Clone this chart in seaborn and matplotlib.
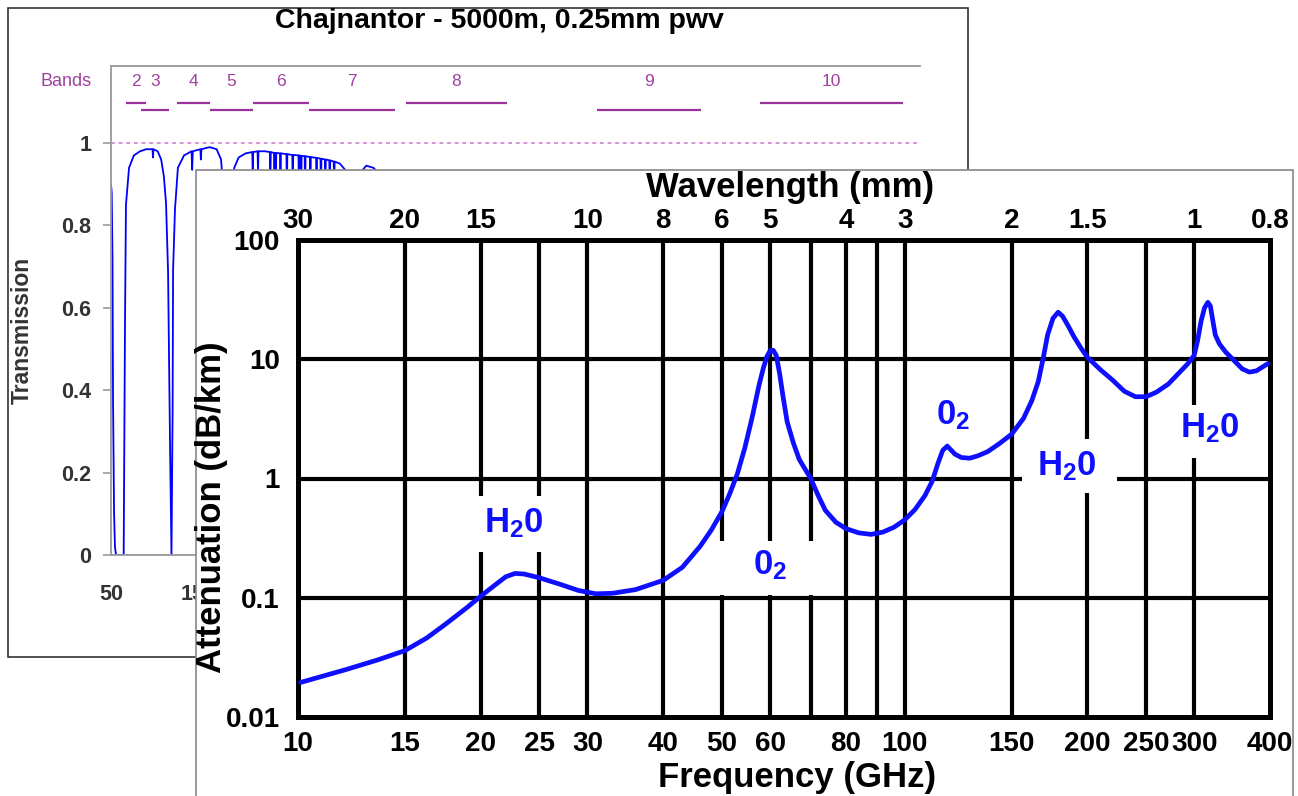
import numpy as np
import matplotlib
matplotlib.use("Agg")
import matplotlib.pyplot as plt
import matplotlib.transforms as mtransforms
from matplotlib.patches import Rectangle
import seaborn as sns

# -----------------------------
# DATA
# -----------------------------

# background chart: Chajnantor transmission (GHz, transmission)
trans_points = [
    (50.0, 0.90), (50.8, 0.88), (51.7, 0.72), (52.3, 0.38), (53.5, 0.10), (54.5, 0.02),
    (55.7, 0.0), (64.4, 0.0), (64.8, 0.14), (65.9, 0.56), (67.0, 0.85), (70.5, 0.94),
    (76.0, 0.97), (83.0, 0.98), (90.0, 0.985), (97.2, 0.985), (97.7, 0.965), (98.2, 0.985),
    (103.0, 0.98), (107.0, 0.96), (110.0, 0.92), (112.5, 0.855), (114.8, 0.69), (117.0, 0.28),
    (118.7, 0.0), (120.0, 0.35), (120.5, 0.69), (122.7, 0.84), (126.0, 0.94), (133.0, 0.97),
    (141.5, 0.98), (142.2, 0.935), (142.9, 0.98), (151.5, 0.985), (152.1, 0.96), (152.7, 0.985),
    (162.0, 0.99), (170.0, 0.985), (175.0, 0.96), (179.0, 0.85), (181.0, 0.40), (183.3, 0.0),
    (185.5, 0.40), (187.5, 0.85), (190.0, 0.94), (195.0, 0.965), (203.0, 0.975),
    (210.5, 0.978), (211.0, 0.93), (211.5, 0.978), (216.5, 0.98), (217.0, 0.93), (217.5, 0.98),
    (225.0, 0.98), (230.5, 0.978), (231.0, 0.90), (231.5, 0.978), (235.2, 0.976), (235.7, 0.88),
    (236.2, 0.976), (237.2, 0.88), (237.7, 0.976), (242.0, 0.975), (242.5, 0.86), (243.0, 0.975),
    (249.3, 0.973), (249.8, 0.88), (250.3, 0.973), (256.0, 0.971), (256.5, 0.87), (257.0, 0.971),
    (263.0, 0.97), (263.5, 0.88), (264.0, 0.97), (265.5, 0.969), (266.0, 0.85), (266.5, 0.969),
    (270.0, 0.968), (270.5, 0.86), (271.0, 0.968), (276.0, 0.966), (276.5, 0.88), (277.0, 0.966),
    (283.0, 0.964), (283.5, 0.90), (284.0, 0.964), (288.0, 0.962), (288.5, 0.86), (289.0, 0.962),
    (293.0, 0.96), (293.5, 0.88), (294.0, 0.96), (298.0, 0.958), (298.5, 0.90), (299.0, 0.958),
    (303.0, 0.955), (303.5, 0.88), (304.0, 0.955), (310.0, 0.95), (316.0, 0.935), (319.0, 0.85),
    (322.5, 0.40), (325.2, 0.02), (327.5, 0.40), (330.0, 0.85), (334.0, 0.93), (340.0, 0.945),
    (348.0, 0.94), (355.0, 0.925), (362.0, 0.86), (370.0, 0.74), (376.0, 0.48), (380.2, 0.02),
    (384.0, 0.50), (390.0, 0.74), (400.0, 0.84), (420.0, 0.86), (440.0, 0.82), (448.0, 0.30),
    (452.0, 0.62), (470.0, 0.80), (490.0, 0.82), (520.0, 0.72), (545.0, 0.30), (557.0, 0.0),
    (575.0, 0.30), (600.0, 0.50), (620.0, 0.58), (650.0, 0.62), (680.0, 0.60), (720.0, 0.45),
    (752.0, 0.0), (780.0, 0.30), (810.0, 0.45), (860.0, 0.50), (900.0, 0.46), (950.0, 0.40),
    (970.0, 0.36),
]
trans_ghz = [p[0] for p in trans_points]
trans_val = [p[1] for p in trans_points]

# ALMA bands (number, low GHz, high GHz)
band_names = ["2", "3", "4", "5", "6", "7", "8", "9", "10"]
band_lo = [67, 84, 125, 163, 211, 275, 385, 602, 787]
band_hi = [90, 116, 163, 211, 275, 373, 500, 720, 950]

bg_xticks = [50, 150, 250, 350, 450, 550, 650, 750, 850, 950]
bg_yticks = [0, 0.2, 0.4, 0.6, 0.8, 1]
bg_ylabels = ["0", "0.2", "0.4", "0.6", "0.8", "1"]

# foreground chart: attenuation (GHz, dB/km)
atten_points = [
    (10.1, 0.0195), (12.0, 0.025), (13.5, 0.030), (15.0, 0.036), (16.3, 0.046), (17.5, 0.060),
    (19.0, 0.083), (20.0, 0.103), (21.0, 0.125), (22.0, 0.150), (22.8, 0.160), (23.6, 0.158),
    (25.0, 0.147), (27.0, 0.130), (29.0, 0.115), (31.0, 0.108), (33.0, 0.109), (36.0, 0.117),
    (40.0, 0.140), (43.0, 0.180), (46.0, 0.270), (48.0, 0.370), (50.0, 0.53), (51.5, 0.75),
    (53.0, 1.1), (54.5, 1.8), (56.0, 3.2), (57.5, 6.0), (58.5, 8.5), (59.3, 10.6),
    (60.0, 11.8), (60.7, 11.9), (61.4, 10.8), (62.2, 7.6), (63.0, 4.9), (64.0, 3.0),
    (65.5, 2.0), (67.0, 1.45), (68.5, 1.2), (70.0, 1.0), (72.0, 0.72), (74.0, 0.54),
    (77.0, 0.43), (80.0, 0.38), (84.0, 0.35), (88.0, 0.34), (92.0, 0.355), (96.0, 0.39),
    (100.0, 0.45), (104.0, 0.55), (108.0, 0.72), (111.0, 0.95), (113.5, 1.35), (115.5, 1.72),
    (117.5, 1.87), (119.0, 1.75), (121.0, 1.60), (124.0, 1.50), (128.0, 1.48), (132.0, 1.55),
    (137.0, 1.68), (143.0, 1.95), (150.0, 2.35), (157.0, 3.2), (162.0, 4.5), (166.0, 6.5),
    (169.0, 10.0), (172.0, 16.0), (175.5, 22.0), (179.0, 24.8), (182.0, 23.0), (186.0, 19.0),
    (190.0, 15.5), (195.0, 12.5), (200.0, 10.4), (210.0, 8.2), (220.0, 6.7), (230.0, 5.4),
    (240.0, 4.85), (250.0, 4.85), (260.0, 5.3), (272.0, 6.2), (284.0, 7.8), (293.0, 9.2),
    (300.0, 10.8), (304.0, 14.5), (308.0, 21.0), (312.0, 27.0), (316.0, 30.0), (319.0, 28.0),
    (322.0, 21.0), (325.0, 16.0), (330.0, 13.5), (338.0, 11.5), (348.0, 9.9), (360.0, 8.3),
    (370.0, 7.8), (380.0, 8.0), (390.0, 8.7), (397.0, 9.2),
]
atten_ghz = [p[0] for p in atten_points]
atten_val = [p[1] for p in atten_points]

freq_ticks = [10, 15, 20, 25, 30, 40, 50, 60, 80, 100, 150, 200, 250, 300, 400]
wave_ticks = [10, 15, 20, 30, 40, 50, 60, 80, 100, 150, 200, 300, 400]
wave_labels = ["30", "20", "15", "10", "8", "6", "5", "4", "3", "2", "1.5", "1", "0.8"]
grid_freqs = [15, 20, 25, 30, 40, 50, 60, 70, 80, 90, 100, 150, 200, 250, 300]
grid_atten = [0.1, 1, 10]
att_yticks = [0.01, 0.1, 1, 10, 100]
att_ylabels = ["0.01", "0.1", "1", "10", "100"]

# line labels: (text, GHz, dB/km at baseline)
line_labels = [
    (r"$\mathrm{H_20}$", 22.7, 0.353),
    (r"$\mathrm{0_2}$", 60.0, 0.157),
    (r"$\mathrm{0_2}$", 120.0, 2.84),
    (r"$\mathrm{H_20}$", 185.0, 1.06),
    (r"$\mathrm{H_20}$", 318.0, 2.21),
]

# gaps cut into grid lines around the labels
vgaps = {20: (0.24, 0.71), 25: (0.24, 0.71), 50: (0.105, 0.30), 60: (0.105, 0.30),
         70: (0.105, 0.30), 200: (0.75, 2.16), 300: (1.5, 4.15)}
hgaps = {1: (156, 224)}

# -----------------------------
# STYLE
# -----------------------------

sns.set_theme(style="white")
plt.rcParams["font.family"] = ["Liberation Sans", "DejaVu Sans"]
plt.rcParams["mathtext.fontset"] = "custom"
plt.rcParams["mathtext.rm"] = "Liberation Sans:bold"
plt.rcParams["mathtext.bf"] = "Liberation Sans:bold"
plt.rcParams["mathtext.it"] = "Liberation Sans:bold"
plt.rcParams["text.color"] = "black"
plt.rcParams["axes.labelcolor"] = "black"
plt.rcParams["xtick.color"] = "black"
plt.rcParams["ytick.color"] = "black"

W, H = 1298, 796
fig = plt.figure(figsize=(W / 100, H / 100), dpi=100)
fig.patch.set_facecolor("white")


def fx(px):
    return px / W


def fy(py):
    return 1 - py / H


BLUE = "#0f0fff"
PURPLE = "#993399"

# -----------------------------
# BACKGROUND PANEL
# -----------------------------

fig.add_artist(Rectangle((fx(8), fy(657)), fx(968) - fx(8), fy(8) - fy(657),
                         transform=fig.transFigure, facecolor="white",
                         edgecolor="#333333", lw=1.2, zorder=1))

ax_bg = fig.add_axes([fx(111), fy(555), fx(920) - fx(111), fy(66) - fy(555)])
ax_bg.set_zorder(2)
ax_bg.set_facecolor("white")

sns.lineplot(x=trans_ghz, y=trans_val, ax=ax_bg, color="#0000ff", lw=1.3,
             estimator=None, sort=False)
ax_bg.set_xlim(50, 969)
ax_bg.set_ylim(0, 1.187)

ax_bg.axhline(1, color="#cc77cc", lw=1.1, ls=(0, (2.5, 2.5)), zorder=1)
for i, (name, lo, hi) in enumerate(zip(band_names, band_lo, band_hi)):
    yb = 1.097 if i % 2 == 0 else 1.080
    ax_bg.hlines(yb, lo, hi, color=PURPLE, lw=1.6)
    ax_bg.text((lo + hi) / 2, 1.150, name, color="#a040a0", fontsize=12.5,
               ha="center", va="center")
blend = mtransforms.blended_transform_factory(ax_bg.transAxes, ax_bg.transData)
ax_bg.text(-0.056, 1.150, "Bands", transform=blend, color="#a040a0",
           fontsize=13, ha="center", va="center")

for side in ["left", "bottom", "top"]:
    ax_bg.spines[side].set_color("#999999")
    ax_bg.spines[side].set_linewidth(1.3)
ax_bg.spines["right"].set_visible(False)

ax_bg.set_yticks(bg_yticks, bg_ylabels)
ax_bg.set_xticks(bg_xticks, [str(t) for t in bg_xticks])
ax_bg.tick_params(axis="y", left=True, length=6, width=1.2, color="#999999",
                  pad=8, labelsize=15.5, labelcolor="#333333")
ax_bg.tick_params(axis="x", bottom=True, length=0, pad=21, labelsize=15.5,
                  labelcolor="#333333")
for lab in ax_bg.get_xticklabels() + ax_bg.get_yticklabels():
    lab.set_fontweight("bold")
ax_bg.set_xlabel("")
ax_bg.set_ylabel("")

fig.text(fx(499), fy(21), "Chajnantor - 5000m, 0.25mm pwv", fontsize=20.5,
         fontweight="bold", ha="center", va="center", zorder=2)
fig.text(fx(22), fy(330), "Transmission", fontsize=16.5, fontweight="bold",
         color="#333333", rotation=90, ha="center", va="center", zorder=2)

# -----------------------------
# FOREGROUND PANEL
# -----------------------------

fig.add_artist(Rectangle((fx(196), fy(820)), fx(1293) - fx(196), fy(170) - fy(820),
                         transform=fig.transFigure, facecolor="white",
                         edgecolor="#888888", lw=1.2, zorder=3))

ax = fig.add_axes([fx(298), fy(717), fx(1270) - fx(298), fy(240) - fy(717)])
ax.set_zorder(4)
ax.set_facecolor("white")
ax.set_xscale("log")
ax.set_yscale("log")

# grid lines with gaps for the labels
for f in grid_freqs:
    if f in vgaps:
        lo, hi = vgaps[f]
        ax.vlines(f, 0.01, lo, color="black", lw=3.0, zorder=1)
        ax.vlines(f, hi, 100, color="black", lw=3.0, zorder=1)
    else:
        ax.vlines(f, 0.01, 100, color="black", lw=3.0, zorder=1)
for a in grid_atten:
    if a in hgaps:
        lo, hi = hgaps[a]
        ax.hlines(a, 10, lo, color="black", lw=3.0, zorder=1)
        ax.hlines(a, hi, 400, color="black", lw=3.0, zorder=1)
    else:
        ax.hlines(a, 10, 400, color="black", lw=3.0, zorder=1)

sns.lineplot(x=atten_ghz, y=atten_val, ax=ax, color=BLUE, lw=3.4,
             estimator=None, sort=False, zorder=3)
for ln in ax.get_lines():
    ln.set_solid_joinstyle("round")
    ln.set_solid_capstyle("round")

ax.set_xlim(10, 400)
ax.set_ylim(0.01, 100)

for txt, f, a in line_labels:
    ax.text(f, a, txt, color=BLUE, fontsize=25, fontweight="bold",
            ha="center", va="baseline", zorder=4)

for side in ax.spines:
    ax.spines[side].set_color("black")
    ax.spines[side].set_linewidth(3.6)

ax.xaxis.set_minor_locator(matplotlib.ticker.NullLocator())
ax.yaxis.set_minor_locator(matplotlib.ticker.NullLocator())
ax.set_xticks(freq_ticks, [str(t) for t in freq_ticks])
ax.set_yticks(att_yticks, att_ylabels)
ax.tick_params(axis="x", length=0, pad=10, labelsize=20, labelcolor="black")
ax.tick_params(axis="y", length=0, pad=13, labelsize=20, labelcolor="black")
for lab in ax.get_xticklabels() + ax.get_yticklabels():
    lab.set_fontweight("bold")
ax.set_xlabel("")
ax.set_ylabel("")

sec = ax.secondary_xaxis("top")
sec.xaxis.set_minor_locator(matplotlib.ticker.NullLocator())
sec.set_xticks(wave_ticks, wave_labels)
sec.tick_params(axis="x", length=0, pad=4, labelsize=20, labelcolor="black")
sec.spines["top"].set_visible(False)
for lab in sec.get_xticklabels():
    lab.set_fontweight("bold")

fig.text(fx(790), fy(197), "Wavelength (mm)", fontsize=25, fontweight="bold",
         color="black", ha="center", va="baseline", zorder=5)
fig.text(fx(797), fy(787), "Frequency (GHz)", fontsize=25, fontweight="bold",
         color="black", ha="center", va="baseline", zorder=5)
fig.text(fx(212), fy(507), "Attenuation (dB/km)", fontsize=25, fontweight="bold",
         color="black", rotation=90, ha="center", va="center", zorder=5)

fig.savefig("out.png", dpi=100, facecolor="white")
